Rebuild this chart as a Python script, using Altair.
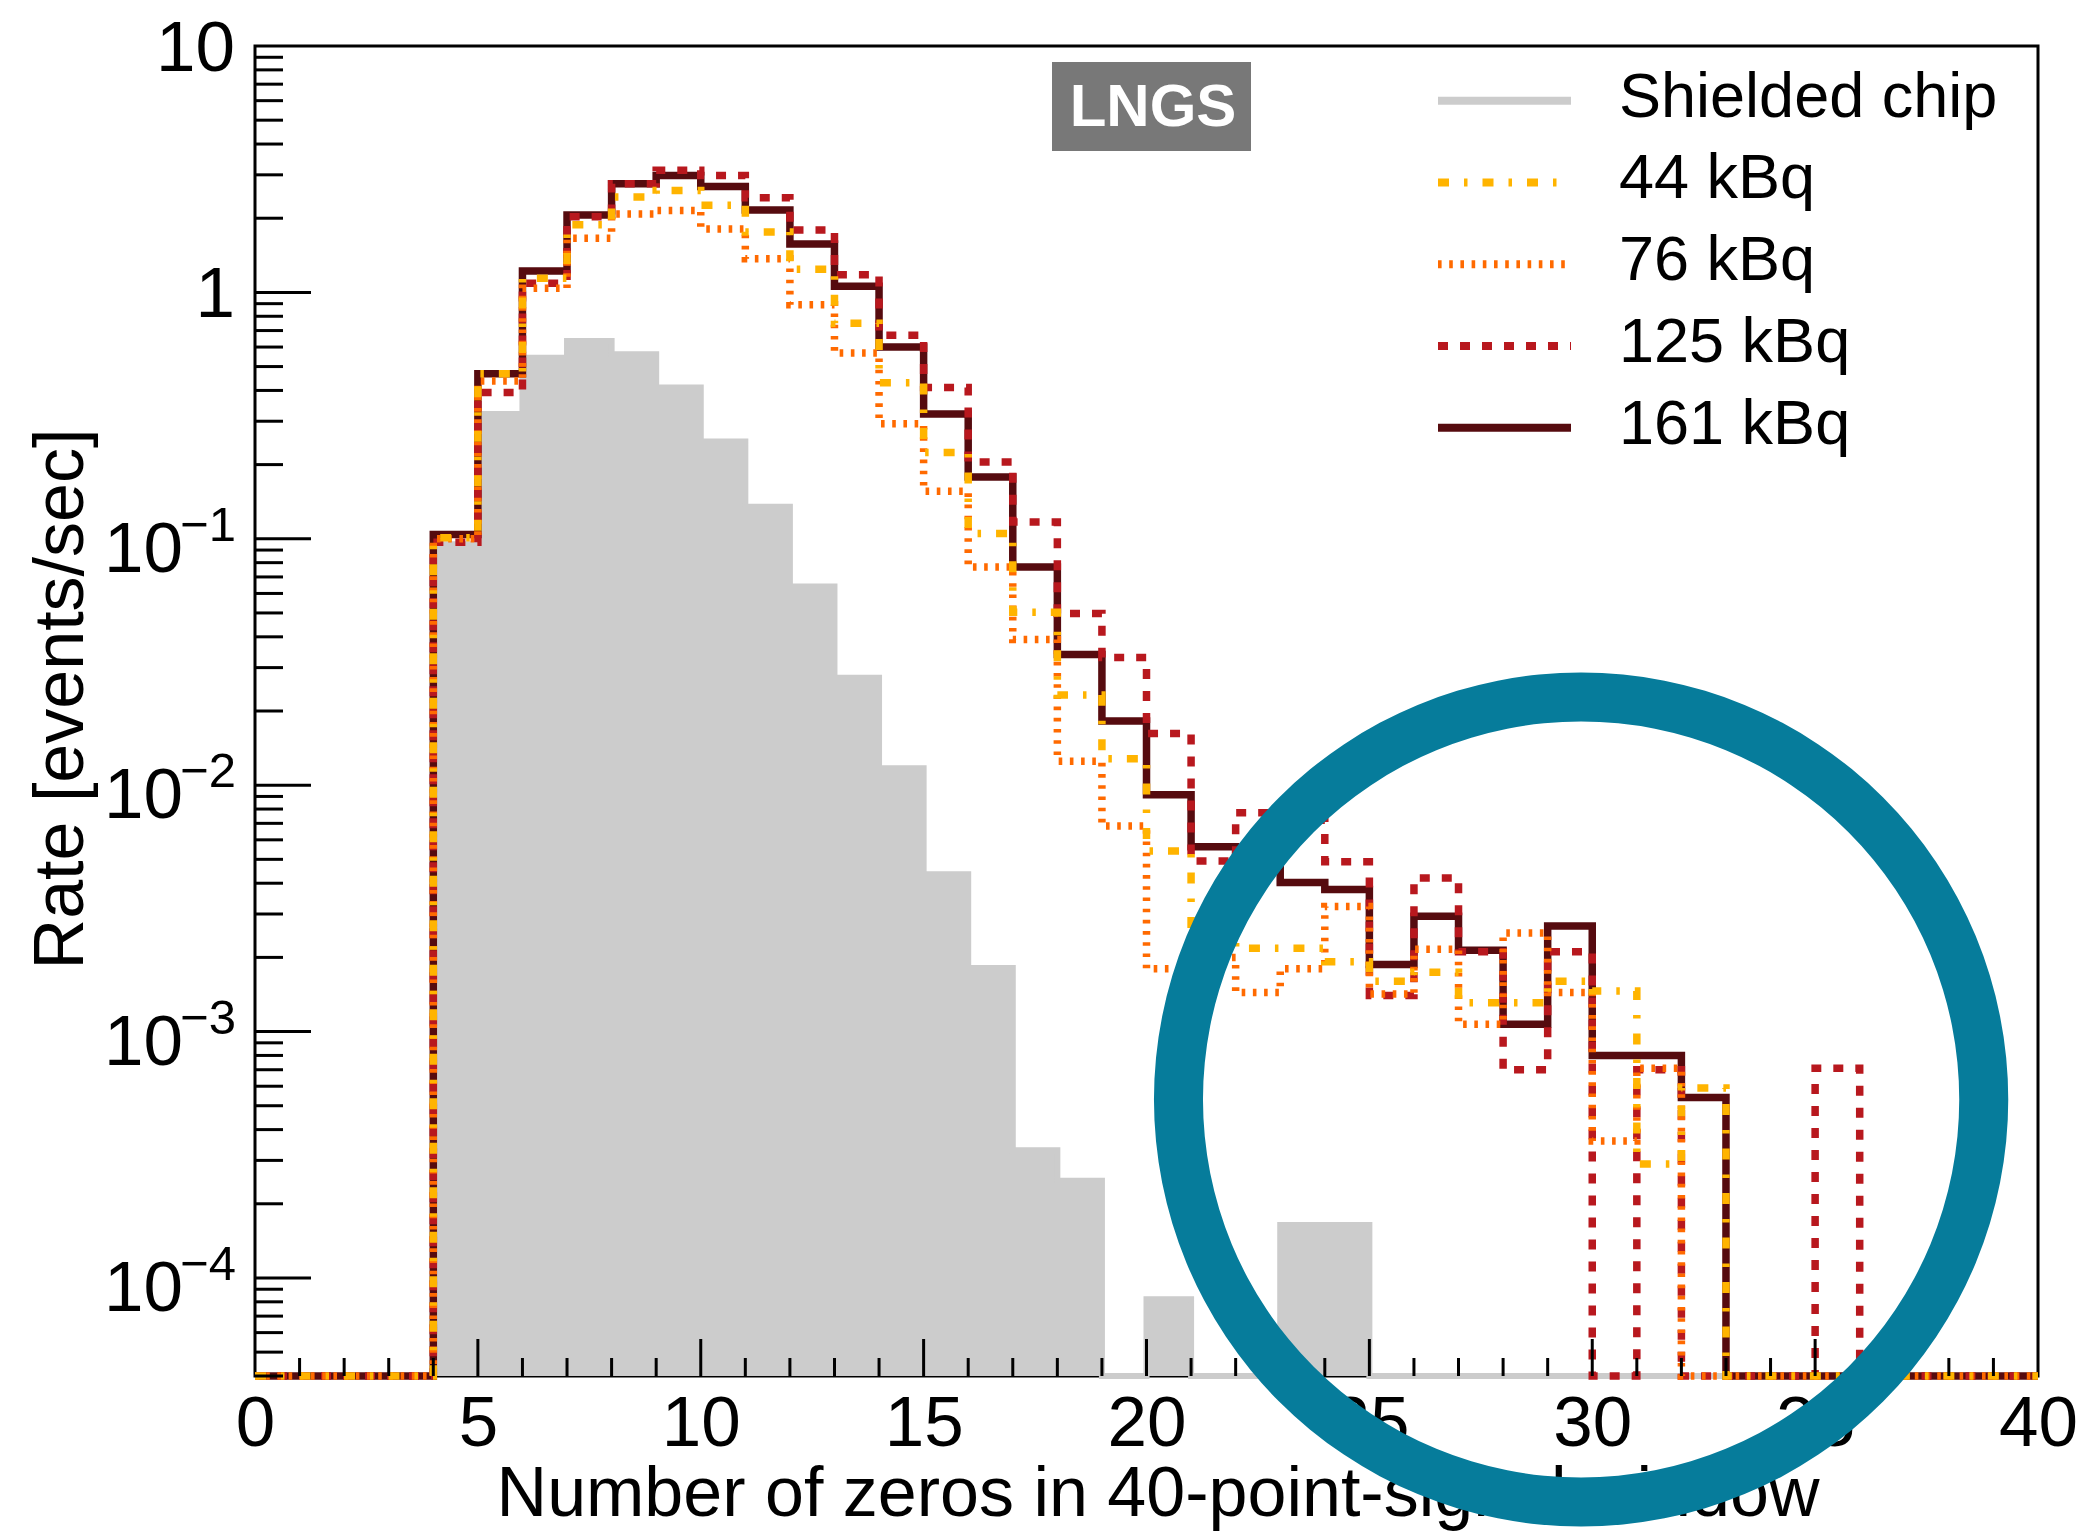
import math

import altair as alt
import pandas as pd

# Histogram of 40 unit-wide bins on [0, 40]; one rate per bin (events/sec)
BIN_EDGES = list(range(0, 41))

shielded_chip = [0, 0, 0, 0, 0.095, 0.321, 0.543, 0.635, 0.561, 0.411,
                 0.248, 0.135, 0.064, 0.0273, 0.0117, 0.00435, 0.00181, 3.3e-4, 2.48e-4, 0,
                 8.2e-5, 0, 0, 1.64e-4, 1.64e-4, 0, 0, 0, 0, 0,
                 0, 0, 0, 0, 0, 0, 0, 0, 0, 0]
rate_44kbq = [0, 0, 0, 0, 0.101, 0.467, 1.14, 1.88, 2.44, 2.59,
              2.26, 1.76, 1.24, 0.75, 0.43, 0.224, 0.105, 0.0503, 0.0232, 0.0128,
              0.0054, 0.0025, 0.00218, 0.00218, 0.00192, 0.0016, 0.00174, 0.00131, 0.00131, 0.0016,
              0.00146, 2.9e-4, 5.9e-4, 0, 0, 0, 0, 0, 0, 0]
rate_76kbq = [0, 0, 0, 0, 0.100, 0.437, 1.04, 1.66, 2.08, 2.15,
              1.81, 1.37, 0.89, 0.567, 0.293, 0.156, 0.0768, 0.039, 0.0125, 0.00683,
              0.0018, 0.0020, 0.00144, 0.0018, 0.00322, 0.00142, 0.00216, 0.00107, 0.00251, 0.00144,
              3.6e-4, 7.1e-4, 0, 0, 0, 0, 0, 0, 0, 0]
rate_125kbq = [0, 0, 0, 0, 0.0967, 0.392, 1.09, 2.03, 2.76, 3.13,
               2.98, 2.42, 1.79, 1.18, 0.67, 0.411, 0.205, 0.117, 0.0497, 0.033,
               0.0162, 0.00492, 0.00773, 0.0072, 0.00489, 0.0014, 0.0042, 0.00211, 7.0e-4, 0.00211,
               0, 7.0e-4, 0, 0, 0, 7.1e-4, 0, 0, 0, 0]
rate_161kbq = [0, 0, 0, 0, 0.104, 0.467, 1.22, 2.06, 2.76, 2.98,
               2.69, 2.16, 1.57, 1.06, 0.60, 0.321, 0.178, 0.0768, 0.0339, 0.0182,
               0.00914, 0.00563, 0.0053, 0.00403, 0.00377, 0.00187, 0.00294, 0.00214, 0.00107, 0.00268,
               8.0e-4, 8.0e-4, 5.4e-4, 0, 0, 0, 0, 0, 0, 0]

series_names = ["Shielded chip", "44 kBq", "76 kBq", "125 kBq", "161 kBq"]
series_values = [shielded_chip, rate_44kbq, rate_76kbq, rate_125kbq, rate_161kbq]

x_tick_labels = [0, 5, 10, 15, 20, 25, 30, 35, 40]
y_tick_values = [10, 1, 0.1, 0.01, 0.001, 0.0001]
y_tick_base = ["10", "1", "10", "10", "10", "10"]
y_tick_exponent = ["", "", "\u22121", "\u22122", "\u22123", "\u22124"]

x_title = "Number of zeros in 40-point-signal window"
y_title = "Rate [events/sec]"
site_label = "LNGS"

# centre of the hand-drawn circle, in data coordinates
ring_center_x = 29.75
ring_center_rate = 5.3e-4

Y_FLOOR = 4e-5
Y_TOP = 10
W, H = 1783, 1330
FONT = "Liberation Sans"

line_styles = {
    "Shielded chip": dict(color="#cccccc"),
    "44 kBq": dict(color="#ffb400", strokeDash=[11, 15, 3.5, 15]),
    "76 kBq": dict(color="#ff6a00", strokeDash=[3.6, 7.6]),
    "125 kBq": dict(color="#b8181e", strokeDash=[10, 12]),
    "161 kBq": dict(color="#560b0f"),
}

xs = alt.Scale(domain=[0, 40], nice=False, zero=False)
ys = alt.Scale(type="log", domain=[Y_FLOOR, Y_TOP], nice=False)
x_axis = alt.Axis(values=x_tick_labels, ticks=False, tickSize=0, domain=False, grid=False,
                  labelFont=FONT, labelFontSize=71, labelColor="black", labelPadding=13,
                  labelFlush=False, labelOverlap=False, format="d", title=None)


def X(field):
    return alt.X(field, scale=xs, axis=x_axis)


def Y(field):
    return alt.Y(field, scale=ys, axis=None)


def step_frame(values):
    # repeat the last bin so the step closes at the right edge; empty bins sit on the floor
    heights = list(values) + [values[-1]]
    return pd.DataFrame({"x": BIN_EDGES, "rate": [max(v, Y_FLOOR) for v in heights]})


layers = []

# shielded chip: filled grey histogram
shield = step_frame(shielded_chip)
layers.append(alt.Chart(shield).mark_area(interpolate="step-after", color="#cccccc")
              .encode(x=X("x:Q"), y=Y("rate:Q"), y2=alt.datum(Y_FLOOR)))
layers.append(alt.Chart(shield).mark_line(interpolate="step-after", color="#cccccc", strokeWidth=6)
              .encode(x=X("x:Q"), y=Y("rate:Q")))

# source histograms, highest activity drawn first
for name in ["161 kBq", "125 kBq", "76 kBq", "44 kBq"]:
    vals = series_values[series_names.index(name)]
    layers.append(alt.Chart(step_frame(vals))
                  .mark_line(interpolate="step-after", strokeWidth=7.5, **line_styles[name])
                  .encode(x=X("x:Q"), y=Y("rate:Q")))

# inward ticks, ROOT style
x_major = pd.DataFrame({"x": [v for v in range(1, 40) if v % 5 == 0]})
x_minor = pd.DataFrame({"x": [v for v in range(1, 40) if v % 5 != 0]})
layers.append(alt.Chart(x_major).mark_rule(color="black", strokeWidth=3)
              .encode(x=X("x:Q"), y=alt.value(H), y2=alt.value(H - 37)))
layers.append(alt.Chart(x_minor).mark_rule(color="black", strokeWidth=3)
              .encode(x=X("x:Q"), y=alt.value(H), y2=alt.value(H - 18)))

y_major = pd.DataFrame({"rate": [10.0 ** d for d in range(-4, 1)]})
y_minor = pd.DataFrame({"rate": [k * 10.0 ** d for d in range(-5, 1) for k in range(2, 10)
                                 if Y_FLOOR <= k * 10.0 ** d < Y_TOP]})
layers.append(alt.Chart(y_major).mark_rule(color="black", strokeWidth=3)
              .encode(y=Y("rate:Q"), x=alt.value(0), x2=alt.value(56)))
layers.append(alt.Chart(y_minor).mark_rule(color="black", strokeWidth=3)
              .encode(y=Y("rate:Q"), x=alt.value(0), x2=alt.value(28)))

# y tick labels with superscript exponents
ylab = pd.DataFrame({"rate": y_tick_values, "base": y_tick_base, "exp": y_tick_exponent})
plain = ylab[ylab["exp"] == ""]
powered = ylab[ylab["exp"] != ""]
layers.append(alt.Chart(plain).mark_text(align="right", baseline="alphabetic", font=FONT,
                                         fontSize=71, dy=25, color="black")
              .encode(y=Y("rate:Q"), x=alt.value(-20), text="base:N"))
layers.append(alt.Chart(powered).mark_text(align="right", baseline="alphabetic", font=FONT,
                                           fontSize=71, dy=33, color="black")
              .encode(y=Y("rate:Q"), x=alt.value(-72), text="base:N"))
layers.append(alt.Chart(powered).mark_text(align="right", baseline="alphabetic", font=FONT,
                                           fontSize=49, dy=2, color="black")
              .encode(y=Y("rate:Q"), x=alt.value(-19), text="exp:N"))

# axis titles
layers.append(alt.Chart(pd.DataFrame({"t": [x_title]}))
              .mark_text(align="center", baseline="alphabetic", font=FONT, fontSize=70, color="black")
              .encode(x=alt.value(903), y=alt.value(1470), text="t:N"))
layers.append(alt.Chart(pd.DataFrame({"t": [y_title]}))
              .mark_text(align="center", baseline="alphabetic", font=FONT, fontSize=70, angle=270,
                         color="black")
              .encode(x=alt.value(-172), y=alt.value(653), text="t:N"))

# site tag
layers.append(alt.Chart(pd.DataFrame({"t": [site_label]})).mark_rect(color="#787878")
              .encode(x=alt.value(797), x2=alt.value(996), y=alt.value(16), y2=alt.value(105)))
layers.append(alt.Chart(pd.DataFrame({"t": [site_label]}))
              .mark_text(align="center", baseline="alphabetic", font=FONT, fontSize=60,
                         fontWeight="bold", color="white")
              .encode(x=alt.value(898), y=alt.value(80), text="t:N"))

# legend
for i, name in enumerate(series_names):
    row_y = 54.7 + 81.75 * i
    entry = pd.DataFrame({"name": [name]})
    layers.append(alt.Chart(entry).mark_rule(strokeWidth=8, **line_styles[name])
                  .encode(x=alt.value(1183), x2=alt.value(1316), y=alt.value(row_y)))
    layers.append(alt.Chart(entry).mark_text(align="left", baseline="alphabetic", font=FONT,
                                             fontSize=63, color="black")
                  .encode(x=alt.value(1364), y=alt.value(row_y + 16), text="name:N"))

# hand-drawn circle around the high-multiplicity tail
layers.append(alt.Chart(pd.DataFrame({"x": [ring_center_x], "rate": [ring_center_rate]}))
              .mark_arc(theta=0, theta2=2 * math.pi, radius=427, radius2=378, color="#067c9b")
              .encode(x=X("x:Q"), y=Y("rate:Q")))

chart = (alt.layer(*layers)
         .properties(width=W, height=H, background="white",
                     autosize=alt.AutoSizeParams(type="none"),
                     padding={"left": 255, "top": 46, "right": 46, "bottom": 157})
         .configure_view(stroke="black", strokeWidth=3))

chart.save("out.html", embed_options={"renderer": "svg", "actions": False})
